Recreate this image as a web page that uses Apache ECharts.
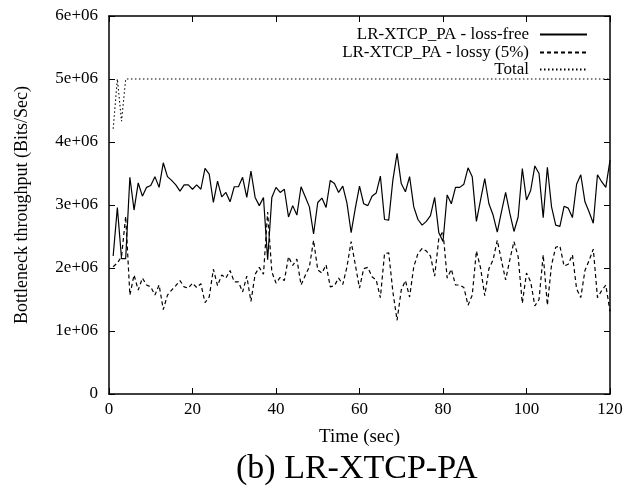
<!DOCTYPE html>
<html>
<head>
<meta charset="utf-8">
<script src="https://cdn.jsdelivr.net/npm/echarts@6/dist/echarts.min.js"></script>
<style>
html,body{margin:0;padding:0;background:#fff;}
#chart{width:638px;height:491px;}
</style>
</head>
<body>
<div id="chart"></div>
<script>
// time (sec)
var times = [1,2,3,4,5,6,7,8,9,10,11,12,13,14,15,16,17,18,19,20,
21,22,23,24,25,26,27,28,29,30,31,32,33,34,35,36,37,38,39,40,
41,42,43,44,45,46,47,48,49,50,51,52,53,54,55,56,57,58,59,60,
61,62,63,64,65,66,67,68,69,70,71,72,73,74,75,76,77,78,79,80,
81,82,83,84,85,86,87,88,89,90,91,92,93,94,95,96,97,98,99,100,
101,102,103,104,105,106,107,108,109,110,111,112,113,114,115,116,117,118,119,120];

// throughput in units of 1e6 bits/sec
var lossFree = [2.19,2.96,2.15,2.15,3.44,2.92,3.35,3.14,3.28,3.31,3.45,3.28,3.67,3.45,3.39,3.32,3.22,3.32,3.32,3.25,
3.32,3.25,3.58,3.49,3.04,3.38,3.13,3.20,3.05,3.29,3.29,3.44,3.12,3.54,3.12,2.99,3.12,2.13,3.12,3.28,
3.20,3.25,2.81,2.99,2.84,3.29,3.13,2.97,2.54,3.04,3.11,2.96,3.39,3.34,3.20,3.30,3.03,2.56,2.95,3.30,
3.02,2.99,3.14,3.19,3.46,2.77,2.76,3.40,3.82,3.34,3.21,3.45,2.97,2.77,2.68,2.74,2.83,3.12,2.56,2.42,
3.16,3.02,3.28,3.28,3.33,3.59,3.45,2.74,3.08,3.42,3.02,2.84,2.57,2.89,3.20,2.87,2.58,2.81,3.58,3.08,
3.23,3.62,3.50,2.80,3.60,2.97,2.68,2.66,2.98,2.95,2.80,3.33,3.48,3.05,2.89,2.71,3.48,3.37,3.28,3.71];

var lossy = [2.02,2.08,2.18,2.82,1.57,1.89,1.65,1.84,1.73,1.70,1.57,1.73,1.34,1.57,1.65,1.72,1.80,1.70,1.68,1.76,
1.69,1.75,1.45,1.54,1.98,1.72,1.89,1.84,1.96,1.78,1.78,1.62,1.87,1.47,1.90,2.01,1.90,2.89,1.94,1.76,
1.85,1.80,2.18,2.04,2.14,1.73,1.88,2.02,2.44,1.97,1.92,2.05,1.70,1.72,1.84,1.74,2.02,2.42,2.05,1.68,
1.99,2.01,1.86,1.81,1.53,2.23,2.24,1.62,1.17,1.65,1.80,1.54,2.02,2.23,2.31,2.27,2.19,1.87,2.47,2.58,
1.84,1.98,1.73,1.73,1.69,1.41,1.57,2.27,2.00,1.56,1.99,2.13,2.44,2.12,1.81,2.13,2.42,2.18,1.44,1.92,
1.78,1.40,1.50,2.21,1.41,2.05,2.33,2.35,2.03,2.06,2.21,1.67,1.53,1.96,2.12,2.30,1.53,1.64,1.73,1.31];

var total = [4.21,5.0,4.33,5.0,5.0,5.0,5.0,5.0,5.0,5.0,5.0,5.0,5.0,5.0,5.0,5.0,5.0,5.0,5.0,5.0,
5.0,5.0,5.0,5.0,5.0,5.0,5.0,5.0,5.0,5.0,5.0,5.0,5.0,5.0,5.0,5.0,5.0,5.0,5.0,5.0,
5.0,5.0,5.0,5.0,5.0,5.0,5.0,5.0,5.0,5.0,5.0,5.0,5.0,5.0,5.0,5.0,5.0,5.0,5.0,5.0,
5.0,5.0,5.0,5.0,5.0,5.0,5.0,5.0,5.0,5.0,5.0,5.0,5.0,5.0,5.0,5.0,5.0,5.0,5.0,5.0,
5.0,5.0,5.0,5.0,5.0,5.0,5.0,5.0,5.0,5.0,5.0,5.0,5.0,5.0,5.0,5.0,5.0,5.0,5.0,5.0,
5.0,5.0,5.0,5.0,5.0,5.0,5.0,5.0,5.0,5.0,5.0,5.0,5.0,5.0,5.0,5.0,5.0,5.0,5.0,5.0];

var seriesNames = ['LR-XTCP_PA - loss-free', 'LR-XTCP_PA - lossy (5%)', 'Total'];
var xTicks = [0, 20, 40, 60, 80, 100, 120];
var yTickLabels = ['0', '1e+06', '2e+06', '3e+06', '4e+06', '5e+06', '6e+06'];

function pairs(ys) {
  var out = [];
  for (var i = 0; i < ys.length; i++) out.push([times[i], ys[i]]);
  return out;
}

var FONT = 'Liberation Serif';
var chart = echarts.init(document.getElementById('chart'), null, {renderer: 'canvas'});

function legendFor(name, top) {
  return {
    data: [name],
    right: 50,
    top: top,
    orient: 'vertical',
    align: 'right',
    padding: 0,
    itemWidth: 47,
    itemHeight: 10,
    selectedMode: false,
    itemStyle: {opacity: 0},
    textStyle: {fontFamily: FONT, fontSize: 17, color: '#000', padding: [0, 6, 0, 0]}
  };
}

var axisCommonLine = {show: true, onZero: false, lineStyle: {color: '#000', width: 1.5}};
var tickStyle = {show: true, inside: true, length: 6, lineStyle: {color: '#000', width: 1}};

var option = {
  backgroundColor: '#fff',
  animation: false,
  grid: {left: 109, right: 28, top: 16, bottom: 97, show: false},
  legend: [
    legendFor(seriesNames[0], 26),
    legendFor(seriesNames[1], 44),
    legendFor(seriesNames[2], 61)
  ],
  xAxis: [{
    type: 'value', min: 0, max: 120, interval: 20, position: 'bottom',
    axisLine: axisCommonLine, axisTick: tickStyle,
    axisLabel: {fontFamily: FONT, fontSize: 17, color: '#000', margin: 7,
      formatter: function (v) { return xTicks.indexOf(v) >= 0 ? String(v) : ''; }},
    splitLine: {show: false},
    name: 'Time (sec)', nameLocation: 'middle', nameGap: 34,
    nameTextStyle: {fontFamily: FONT, fontSize: 19, color: '#000'}
  }, {
    type: 'value', min: 0, max: 120, interval: 20, position: 'top',
    axisLine: axisCommonLine, axisTick: tickStyle,
    axisLabel: {show: false}, splitLine: {show: false}
  }],
  yAxis: [{
    type: 'value', min: 0, max: 6, interval: 1, position: 'left',
    axisLine: axisCommonLine, axisTick: tickStyle,
    axisLabel: {fontFamily: FONT, fontSize: 17, color: '#000', margin: 11,
      formatter: function (v) { return yTickLabels[Math.round(v)]; }},
    splitLine: {show: false},
    name: 'Bottleneck throughput (Bits/Sec)', nameLocation: 'middle', nameGap: 78,
    nameTextStyle: {fontFamily: FONT, fontSize: 18, color: '#000'}
  }, {
    type: 'value', min: 0, max: 6, interval: 1, position: 'right',
    axisLine: axisCommonLine, axisTick: tickStyle,
    axisLabel: {show: false}, splitLine: {show: false}
  }],
  series: [{
    name: seriesNames[0], type: 'line', data: pairs(lossFree), symbol: 'none',
    lineStyle: {color: '#000', width: 1.2, type: 'solid'}, itemStyle: {color: '#000'}
  }, {
    name: seriesNames[1], type: 'line', data: pairs(lossy), symbol: 'none',
    lineStyle: {color: '#000', width: 1.2, type: [4, 3]}, itemStyle: {color: '#000'}
  }, {
    name: seriesNames[2], type: 'line', data: pairs(total), symbol: 'none',
    lineStyle: {color: '#000', width: 1.1, type: [1.5, 2.5]}, itemStyle: {color: '#000'}
  }],
  graphic: [{
    type: 'text', left: 236, top: 452,
    style: {text: '(b) LR-XTCP-PA', fontFamily: FONT, fontSize: 34, fill: '#000'}
  }]
};
chart.setOption(option);
</script>
</body>
</html>
